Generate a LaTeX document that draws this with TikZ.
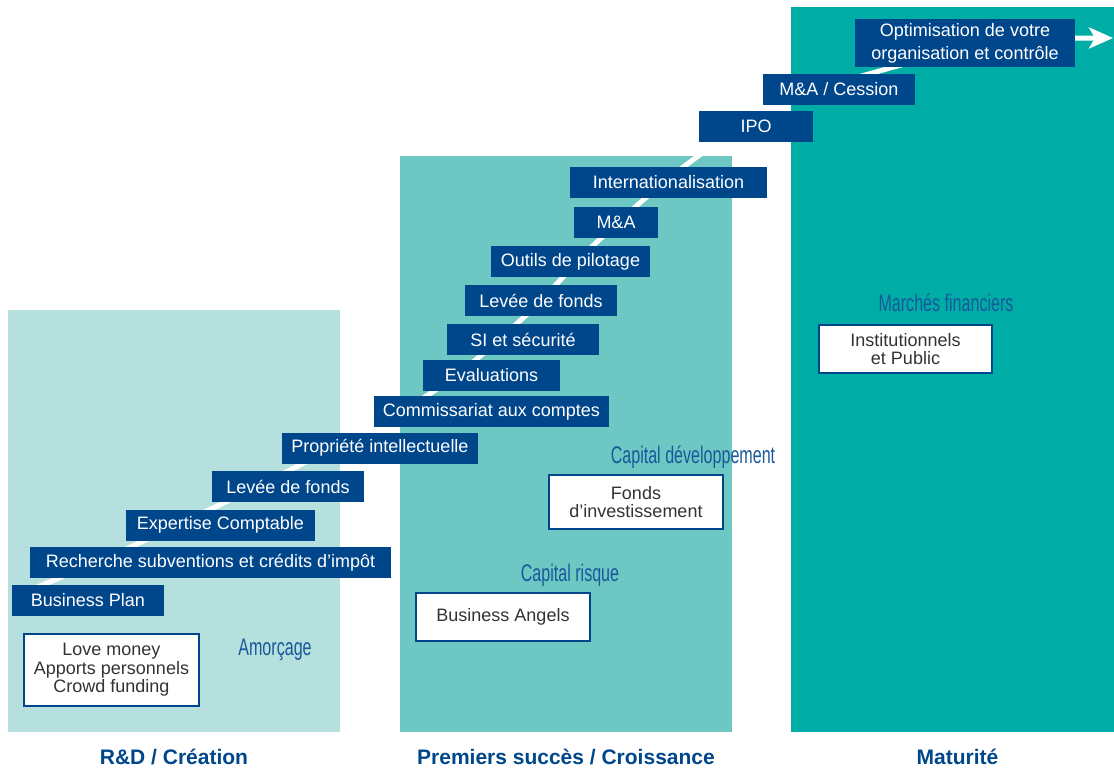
\documentclass[tikz,border=0pt]{standalone}
\usepackage{fontspec}
\setmainfont{Liberation Sans}
\usetikzlibrary{arrows.meta}

\definecolor{kblue}{RGB}{0,70,139}
\definecolor{labelblue}{RGB}{24,88,155}
\definecolor{tealA}{RGB}{181,224,221}
\definecolor{tealB}{RGB}{109,200,195}
\definecolor{tealC}{RGB}{0,173,166}
\definecolor{boxtext}{RGB}{51,51,51}

\begin{document}
\begin{tikzpicture}[
  x=1pt, y=-1pt,
  stepbox/.style={fill=kblue, text=white, inner sep=0pt, minimum height=31pt, align=center, font=\fontsize{18}{23}\selectfont},
  fundbox/.style={draw=kblue, line width=2pt, fill=white, text=boxtext, inner sep=0pt, align=center, font=\fontsize{18}{18.5}\selectfont},
  phaselabel/.style={text=labelblue, inner sep=0pt, xscale=0.67, font=\fontsize{24}{24}\selectfont},
  stagelabel/.style={text=kblue, inner sep=0pt, anchor=base, font=\fontsize{21}{21}\selectfont\bfseries}
]
\useasboundingbox (0,0) rectangle (1114,769);

% stage columns
\fill[tealA] (8,310) rectangle (340,732);
\fill[tealB] (400,156) rectangle (732,732);
\fill[tealC] (791,7) rectangle (1114,732);

% growth curve behind the steps
\coordinate (growthstart) at (30,590);
\coordinate (growthtip) at (1113,38);
\draw[white, line width=5pt, -{Stealth[length=24pt, width=21pt, inset=6pt]}]
  plot[smooth, tension=0.6] coordinates {(growthstart) (135,545) (298,466) (431,393) (523,318) (598,241) (690,162) (785,103) (883,70) (1000,42) (1075,38)}
  -- (growthtip);

% steps
\node[stepbox, minimum width=152pt] (bplan) at (88,600.5) {Business Plan};
\node[stepbox, minimum width=361pt] (subv) at (210.5,562.5) {Recherche subventions et crédits d’impôt};
\node[stepbox, minimum width=189pt] (expert) at (220.5,525) {Expertise Comptable};
\node[stepbox, minimum width=152pt] (levee) at (288,486.5) {Levée de fonds};
\node[stepbox, minimum width=196pt] (propint) at (380,448) {Propriété intellectuelle};
\node[stepbox, minimum width=235pt] (cac) at (491.5,411.5) {Commissariat aux comptes};
\node[stepbox, minimum width=137pt] (eval) at (491.5,375.5) {Evaluations};
\node[stepbox, minimum width=152pt] (sisec) at (523,339.5) {SI et sécurité};
\node[stepbox, minimum width=152pt] (leveeb) at (541,300.5) {Levée de fonds};
\node[stepbox, minimum width=159pt] (pilot) at (570.5,261.5) {Outils de pilotage};
\node[stepbox, minimum width=84pt] (ma) at (616,222.5) {M\&A};
\node[stepbox, minimum width=197pt] (intl) at (668.5,182.5) {Internationalisation};
\node[stepbox, minimum width=114pt] (ipo) at (756,126.5) {IPO};
\node[stepbox, minimum width=152pt] (cession) at (839,89.5) {M\&A / Cession};
\node[stepbox, minimum width=220pt, minimum height=48pt] (optim) at (965,43) {Optimisation de votre\\organisation et contrôle};

% financing
\node[phaselabel] (amorce) at (275,650) {Amorçage};
\node[fundbox, minimum width=175pt, minimum height=72pt] (love) at (111.5,670) {Love money\\Apports personnels\\Crowd funding};
\node[phaselabel] (risque) at (570,575) {Capital risque};
\node[fundbox, minimum width=174pt, minimum height=48pt] (angels) at (503,617) {Business Angels};
\node[phaselabel] (devel) at (693,457) {Capital développement};
\node[fundbox, minimum width=174pt, minimum height=54pt] (fonds) at (636,502) {Fonds\\d’investissement};
\node[phaselabel] (marches) at (946,303) {Marchés financiers};
\node[fundbox, minimum width=173pt, minimum height=48pt] (public) at (905.5,349) {Institutionnels\\et Public};

% stages
\node[stagelabel] (rd) at (174,764) {R\&D / Création};
\node[stagelabel] (growth) at (566,764) {Premiers succès / Croissance};
\node[stagelabel] (mature) at (957.5,764) {Maturité};
\end{tikzpicture}
\end{document}
